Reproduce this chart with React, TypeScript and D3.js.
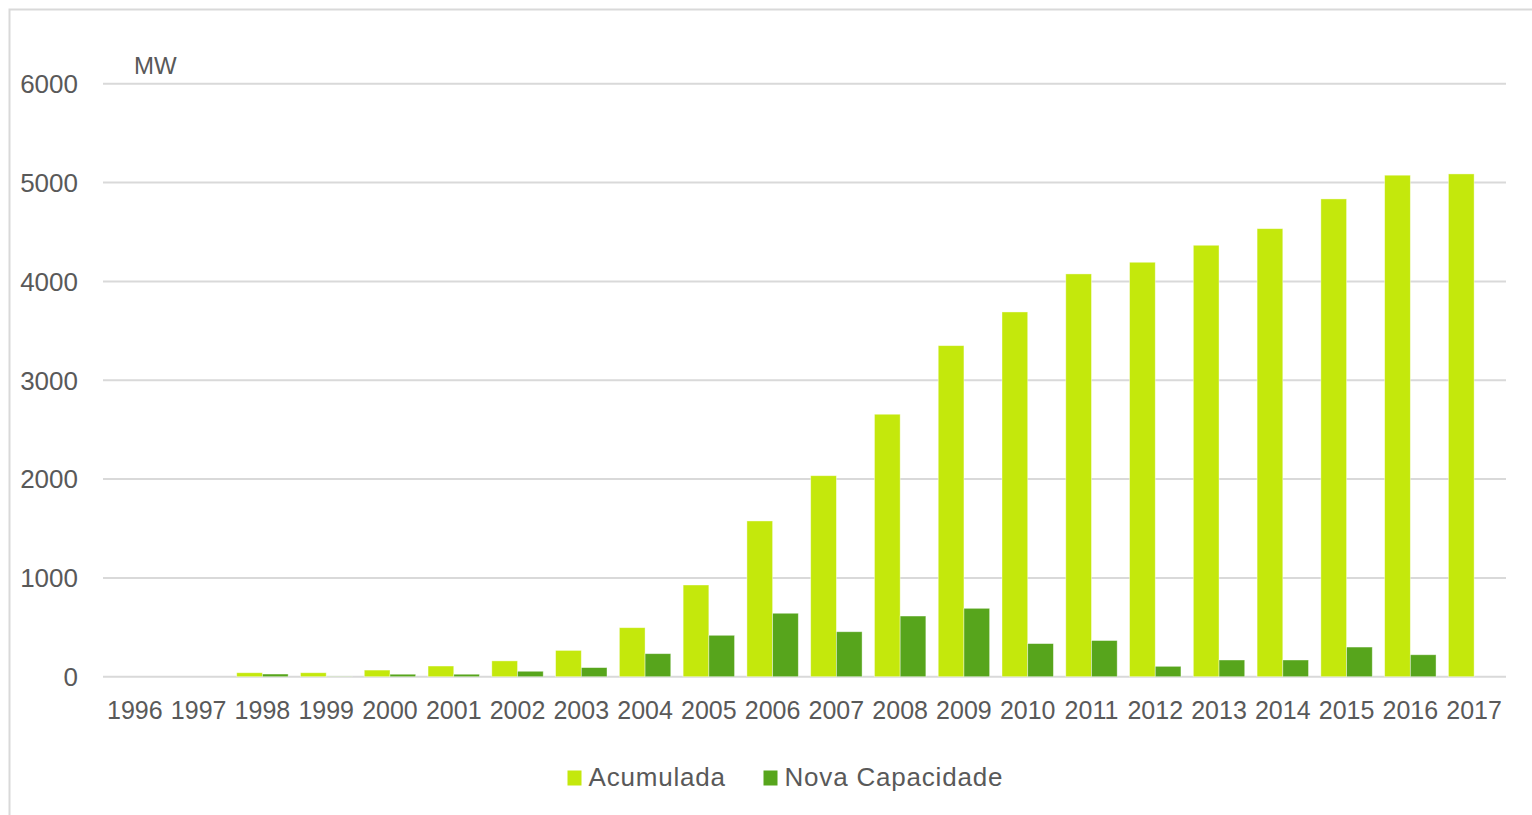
import React from "react";
import * as d3 from "d3";

// Wind capacity by year (MW)
const years: string[] = [
  "1996", "1997", "1998", "1999", "2000", "2001", "2002", "2003", "2004", "2005", "2006",
  "2007", "2008", "2009", "2010", "2011", "2012", "2013", "2014", "2015", "2016", "2017",
];
const acumulada: number[] = [
  0, 0, 40, 40, 67, 108, 160, 266, 496, 928, 1576,
  2034, 2656, 3350, 3691, 4076, 4194, 4366, 4534, 4835, 5075, 5088,
];
const novaCapacidade: number[] = [
  0, 0, 27, 3, 25, 25, 55, 92, 233, 419, 642,
  455, 614, 692, 335, 366, 105, 169, 169, 300, 222, 0,
];
const yTicks: number[] = [0, 1000, 2000, 3000, 4000, 5000, 6000];
const seriesNames: string[] = ["Acumulada", "Nova Capacidade"];
const seriesColors: string[] = ["#C4E80C", "#57A51C"];

const W = 1532;
const H = 815;
const FONT = "'Liberation Sans', Arial, sans-serif";
const TEXT = "#595959";
const GRID = "#D9D9D9";

export default function App() {
  const x = d3
    .scaleBand<string>()
    .domain(years)
    .range([103, 1506])
    .paddingInner(0.194)
    .paddingOuter(0.097);
  const xInner = d3
    .scaleBand<string>()
    .domain(seriesNames)
    .range([0, x.bandwidth()]);
  const y = d3.scaleLinear().domain([0, 6000]).range([676.7, 83.8]);

  const seriesData = [acumulada, novaCapacidade];

  return (
    <svg
      width={W}
      height={H}
      style={{ position: "absolute", left: 0, top: 0, background: "#fff" }}
      fontFamily={FONT}
    >
      {/* outer frame */}
      <rect x={9.5} y={9.5} width={W + 20} height={H + 20} fill="none" stroke={GRID} strokeWidth={2} />

      {/* horizontal grid */}
      {yTicks.map((t) => (
        <line key={t} x1={103} x2={1506} y1={y(t)} y2={y(t)} stroke={GRID} strokeWidth={2} />
      ))}

      {/* y tick labels */}
      {yTicks.map((t) => (
        <text
          key={"yl" + t}
          x={78}
          y={y(t)}
          dy="0.36em"
          textAnchor="end"
          fontSize={26}
          fill={TEXT}
        >
          {t}
        </text>
      ))}

      <text x={134} y={74} fontSize={24} fill={TEXT}>
        MW
      </text>

      {/* bars */}
      {seriesData.map((vals, si) => (
        <g key={seriesNames[si]}>
          {years.map((yr, i) =>
            vals[i] > 0 ? (
              <rect
                key={yr}
                x={(x(yr) ?? 0) + (xInner(seriesNames[si]) ?? 0)}
                y={y(vals[i])}
                width={xInner.bandwidth()}
                height={y(0) - y(vals[i])}
                fill={seriesColors[si]}
                stroke="#ffffff"
                strokeOpacity={0.5}
                strokeWidth={0.8}
              />
            ) : null
          )}
        </g>
      ))}

      {/* x tick labels */}
      {years.map((yr) => (
        <text
          key={"xl" + yr}
          x={(x(yr) ?? 0) + x.bandwidth() / 2}
          y={719}
          textAnchor="middle"
          fontSize={25}
          fill={TEXT}
        >
          {yr}
        </text>
      ))}

      {/* legend */}
      {seriesNames.map((name, i) => {
        const lx = i === 0 ? 567.5 : 763.5;
        return (
          <g key={"lg" + name}>
            <rect x={lx} y={770.5} width={14} height={15} fill={seriesColors[i]} />
            <text x={lx + 21} y={786} fontSize={26} fill={TEXT} letterSpacing={0.8}>
              {name}
            </text>
          </g>
        );
      })}
    </svg>
  );
}
